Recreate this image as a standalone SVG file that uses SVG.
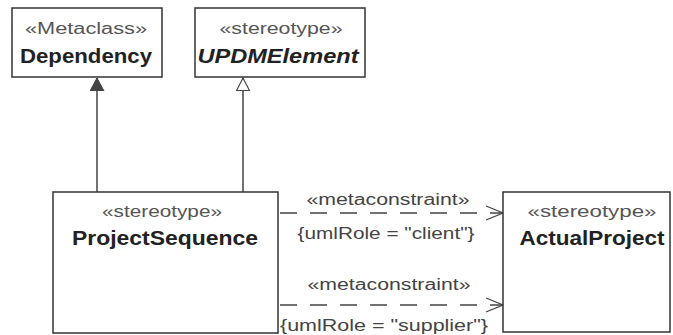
<svg xmlns="http://www.w3.org/2000/svg" width="673" height="335" viewBox="0 0 673 335">
<style>
.box{fill:#fff;stroke:#333;stroke-width:1.5}
.st{font-family:"Liberation Sans",Arial,sans-serif;font-size:16px;fill:#555}
.nm{font-family:"Liberation Sans",Arial,sans-serif;font-size:20px;font-weight:bold;fill:#222}
.lb{font-family:"Liberation Sans",Arial,sans-serif;font-size:16px;fill:#444}
.ln{stroke:#444;stroke-width:1.5;fill:none}
.dash{stroke:#444;stroke-width:1.3;fill:none;stroke-dasharray:17 13}
</style>
<defs>
<marker id="filled" markerWidth="16" markerHeight="16" refX="13" refY="7" orient="auto" markerUnits="userSpaceOnUse">
<path d="M0,0 L13,7 L0,14 Z" fill="#444" stroke="#444" stroke-width="1"/>
</marker>
<marker id="hollow" markerWidth="16" markerHeight="16" refX="13" refY="7" orient="auto" markerUnits="userSpaceOnUse">
<path d="M0.5,0.5 L13,7 L0.5,13.5 Z" fill="#fff" stroke="#444" stroke-width="1.2"/>
</marker>
<marker id="open" markerWidth="20" markerHeight="16" refX="18" refY="8" orient="auto" markerUnits="userSpaceOnUse">
<path d="M1,1 L18,8 L1,15" fill="none" stroke="#444" stroke-width="1.3"/>
</marker>
</defs>
<g id="connectors">
<line class="ln" x1="97" y1="192" x2="97" y2="78" marker-end="url(#filled)"/>
<line class="ln" x1="243" y1="192" x2="243" y2="78" marker-end="url(#hollow)"/>
<line class="dash" x1="280" y1="213" x2="503" y2="213" marker-end="url(#open)"/>
<line class="dash" x1="280" y1="305" x2="503" y2="305" marker-end="url(#open)"/>
<text class="lb" x="388" y="205" text-anchor="middle" textLength="163" lengthAdjust="spacingAndGlyphs">«metaconstraint»</text>
<text class="lb" x="386" y="239" text-anchor="middle" textLength="177" lengthAdjust="spacingAndGlyphs">{umlRole = "client"}</text>
<text class="lb" x="389" y="290" text-anchor="middle" textLength="163" lengthAdjust="spacingAndGlyphs">«metaconstraint»</text>
<text class="lb" x="384" y="331" text-anchor="middle" textLength="208" lengthAdjust="spacingAndGlyphs">{umlRole = "supplier"}</text>
</g>
<g id="Dependency">
<rect class="box" x="12" y="8" width="150" height="69"/>
<text class="st" x="86" y="34" text-anchor="middle" textLength="122" lengthAdjust="spacingAndGlyphs">«Metaclass»</text>
<text class="nm" x="86" y="63" text-anchor="middle" textLength="132" lengthAdjust="spacingAndGlyphs">Dependency</text>
</g>
<g id="UPDMElement">
<rect class="box" x="195" y="8" width="170" height="69"/>
<text class="st" x="281" y="34" text-anchor="middle" textLength="123" lengthAdjust="spacingAndGlyphs">«stereotype»</text>
<text class="nm" x="278" y="63" text-anchor="middle" font-style="italic" textLength="161" lengthAdjust="spacingAndGlyphs">UPDMElement</text>
</g>
<g id="ProjectSequence">
<rect class="box" x="53" y="192" width="225" height="141"/>
<text class="st" x="162" y="217" text-anchor="middle" textLength="120" lengthAdjust="spacingAndGlyphs">«stereotype»</text>
<text class="nm" x="165" y="245" text-anchor="middle" textLength="186" lengthAdjust="spacingAndGlyphs">ProjectSequence</text>
</g>
<g id="ActualProject">
<rect class="box" x="503" y="192" width="167" height="140"/>
<text class="st" x="592" y="217" text-anchor="middle" textLength="129" lengthAdjust="spacingAndGlyphs">«stereotype»</text>
<text class="nm" x="592" y="245" text-anchor="middle" textLength="145" lengthAdjust="spacingAndGlyphs">ActualProject</text>
</g>
</svg>
